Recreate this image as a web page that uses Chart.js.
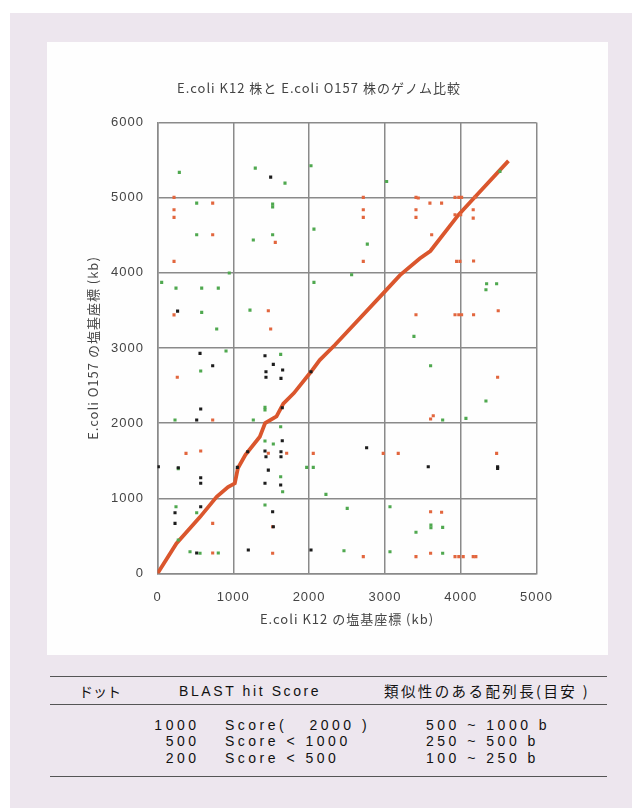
<!DOCTYPE html>
<html lang="ja">
<head>
<meta charset="utf-8">
<title>E.coli K12 株と E.coli O157 株のゲノム比較</title>
<script src="https://cdn.jsdelivr.net/npm/chart.js@4/dist/chart.umd.min.js"></script>
<style>
  html, body { margin: 0; padding: 0; background: #fff; }
  #page { position: relative; width: 632px; height: 808px; overflow: hidden; background: #fff; }
  #panel { position: absolute; left: 10px; top: 13px; width: 622px; height: 795px; background: #ede6ee; }
  #card { position: absolute; left: 47px; top: 42px; width: 561px; height: 613px; background: #fefefe; }
  #plot { position: absolute; left: 0; top: 0; filter: blur(0.45px); }
  .rule { position: absolute; left: 50px; width: 557px; height: 0; border-top: 1.5px solid #555; }
  .cell { position: absolute; line-height: 16px; white-space: pre; color: #111;
          font-family: 'Liberation Sans', Arial, sans-serif; font-size: 14px; letter-spacing: 3.5px; }
  .jp { font-family: 'Noto Sans CJK JP', sans-serif; }
</style>
</head>
<body>
<div id="page">
  <div id="panel"></div>
  <div id="card"></div>
  <canvas id="plot" width="632" height="660"></canvas>
  <div id="legendTable"></div>
</div>
<script>
// ---- axis ticks (kb) ----
const xTicks = [0, 1000, 2000, 3000, 4000, 5000];
const yTicks = [0, 1000, 2000, 3000, 4000, 5000, 6000];

// ---- main collinear trace: K12 position vs O157 position (kb) ----
const diagonalTrace = [
  [0, 0], [250, 400], [560, 750], [780, 1020], [930, 1150], [1020, 1200],
  [1060, 1400], [1160, 1580], [1350, 1820], [1420, 2000], [1570, 2090],
  [1660, 2260], [1800, 2400], [2030, 2690], [2140, 2840], [2340, 3040],
  [2980, 3730], [3200, 3970], [3460, 4190], [3600, 4290], [3970, 4770],
  [4170, 4990], [4630, 5490]
];

// ---- scattered hits by score class ----
const redHits = [
  [218, 5004], [218, 4840], [218, 4738], [728, 4928], [728, 4506], [218, 4152],
  [218, 3440], [1462, 3495], [1493, 3252], [1554, 4405],
  [2715, 5004], [2715, 4840], [2715, 4738], [2715, 4152], [3410, 5004], [3440, 4995],
  [3410, 4840], [3410, 4738], [3594, 4928], [3748, 4928], [3617, 4506],
  [3925, 5004], [3975, 5004], [4012, 5004], [4188, 5004], [3925, 4772], [4000, 4772],
  [4165, 4840], [4165, 4728], [3946, 4152], [3990, 4152], [4170, 4158],
  [3410, 3442], [3925, 3442], [3975, 3442], [4012, 3442], [4170, 3442], [4495, 3495],
  [261, 2610], [728, 2042], [376, 1598], [570, 1629], [1462, 1600], [1704, 1600],
  [2055, 1598], [728, 667], [1519, 622], [728, 272], [1519, 269],
  [4487, 2610], [3638, 2099], [3603, 2055], [2978, 1598], [3176, 1598], [4474, 1598],
  [3603, 822], [3748, 814], [2715, 224], [3410, 224], [3603, 269],
  [3925, 224], [3975, 224], [4033, 224], [4165, 224], [4200, 224]
];
const greenHits = [
  [288, 5336], [517, 4928], [517, 4506], [947, 3997], [55, 3873], [244, 3797],
  [583, 3797], [802, 3797], [583, 3474], [781, 3252], [1290, 5393], [1682, 5194],
  [2025, 5424], [1519, 4914], [1519, 4875], [1264, 4436], [1519, 4506], [2064, 4582],
  [2064, 3873], [1220, 3504],
  [3023, 5216], [2768, 4382], [2561, 3974], [4342, 3854], [4474, 3854], [4333, 3775],
  [3383, 3155], [4518, 5350],
  [904, 2960], [570, 2694], [231, 2042], [1264, 2042], [1625, 2915], [1418, 2210],
  [1418, 2175], [1625, 1952], [1418, 1762], [1528, 1722], [274, 1395], [1968, 1412],
  [2055, 1412], [1625, 1287], [1651, 1088], [2222, 1053], [244, 888], [517, 809],
  [1418, 911], [274, 446], [429, 290], [561, 269], [802, 272],
  [3603, 2764], [4333, 2294], [3762, 2042], [4069, 2064], [2503, 867], [3067, 888],
  [3607, 645], [3607, 609], [3762, 614], [3410, 548], [2460, 303], [3067, 290], [3762, 269]
];
const blackHits = [
  [265, 3490], [1493, 5273],
  [561, 2929], [728, 2764], [570, 2188], [517, 2042], [1418, 2897], [1528, 2782],
  [1431, 2684], [1431, 2610], [1651, 2707], [1629, 2596], [1646, 2205], [2025, 2684],
  [1646, 1766], [1190, 1620], [1418, 1629], [1431, 1553], [1629, 1620], [1629, 1553],
  [11, 1420], [274, 1407], [1053, 1412], [1462, 1376], [570, 1274], [570, 1200],
  [1418, 1200], [1625, 1177], [570, 888], [231, 809], [231, 667], [1519, 822],
  [1528, 622], [517, 272], [1198, 312], [2025, 312],
  [2759, 1673], [3572, 1420], [4487, 1399], [4487, 1420]
];

// ---- legend table text ----
const legendHeader = ['ドット', 'BLAST hit Score', '類似性のある配列長(目安 )'];
const scoreFloor = ['1000', '500', '200'];
const scoreRange = ['Score(   2000 )', 'Score < 1000', 'Score < 500'];
const seqLength = ['500 ~ 1000 b', '250 ~ 500 b', '100 ~ 250 b'];

const toXY = arr => arr.map(([x, y]) => ({ x, y }));

// canvas text gets a little tracking
const tracking = {
  id: 'tracking',
  beforeDraw(chart) { chart.ctx.letterSpacing = '1px'; }
};

const gridColor = '#8a8a8a';
const textColor = '#444';
const jpFont = "'Noto Sans CJK JP', sans-serif";
const plainTick = v => String(v);

// left padding shifts the chart title toward the plot; the y axis box fills the rest
const padLeft = 101.5;
const plotLeft = 157.5;

new Chart(document.getElementById('plot'), {
  type: 'scatter',
  data: {
    datasets: [
      { label: 'black', data: toXY(blackHits), backgroundColor: '#1c1c1c',
        pointStyle: 'rect', pointRadius: 2.2, borderWidth: 0 },
      { label: 'green', data: toXY(greenHits), backgroundColor: '#4fa84f',
        pointStyle: 'rect', pointRadius: 2.2, borderWidth: 0 },
      { label: 'red', data: toXY(redHits), backgroundColor: '#e2663e',
        pointStyle: 'rect', pointRadius: 2.2, borderWidth: 0 },
      { label: 'trace', data: toXY(diagonalTrace), showLine: true,
        borderColor: '#da562d', borderWidth: 3.8, pointRadius: 0, tension: 0 }
    ]
  },
  options: {
    responsive: false,
    animation: false,
    devicePixelRatio: 1,
    events: [],
    layout: { padding: { left: padLeft, right: 95.5, top: 0, bottom: 26.5 } },
    plugins: {
      legend: { display: false },
      tooltip: { enabled: false },
      title: {
        display: true,
        text: 'E.coli K12 株と E.coli O157 株のゲノム比較',
        color: textColor,
        font: { family: jpFont, size: 13, weight: 'normal', lineHeight: 1.2 },
        padding: { top: 80, bottom: 26.9 }
      }
    },
    scales: {
      x: {
        type: 'linear',
        min: 0, max: 5000,
        afterBuildTicks: s => { s.ticks = xTicks.map(v => ({ value: v })); },
        afterFit: s => { s.height = 60; },
        grid: { color: gridColor, lineWidth: 1.5, drawTicks: false },
        border: { color: gridColor, width: 1.5 },
        ticks: { color: textColor, padding: 16, callback: plainTick,
                 font: { family: "'Liberation Sans', Arial, sans-serif", size: 13 } },
        title: { display: true, text: 'E.coli K12 の塩基座標 (kb)', color: textColor,
                 font: { family: jpFont, size: 13, lineHeight: 1.2 },
                 padding: { top: 0, bottom: 6.7 } }
      },
      y: {
        type: 'linear',
        min: 0, max: 6000,
        afterBuildTicks: s => { s.ticks = yTicks.map(v => ({ value: v })); },
        afterFit: s => { s.width = plotLeft - padLeft; },
        grid: { color: gridColor, lineWidth: 1.5, drawTicks: false },
        border: { color: gridColor, width: 1.5 },
        ticks: { color: textColor, padding: 13.5, callback: plainTick,
                 font: { family: "'Liberation Sans', Arial, sans-serif", size: 13 } },
        title: { display: true, text: 'E.coli O157 の塩基座標 (kb)', color: textColor,
                 font: { family: jpFont, size: 13, lineHeight: 1.2 },
                 padding: { top: 85 - padLeft, bottom: 0 } }
      }
    }
  },
  plugins: [tracking]
});

// ---- legend table under the chart ----
(function buildTable() {
  const host = document.getElementById('legendTable');
  const add = (cls, text, style) => {
    const el = document.createElement('div');
    el.className = cls;
    if (text !== null) el.textContent = text;
    Object.assign(el.style, style);
    host.appendChild(el);
    return el;
  };
  add('rule', null, { top: '676px' });
  add('rule', null, { top: '704px' });
  add('rule', null, { top: '776px' });

  add('cell jp', legendHeader[0], { left: '79px', top: '683px', letterSpacing: '0px' });
  add('cell', legendHeader[1], { left: '179px', top: '683px', letterSpacing: '2.6px' });
  add('cell jp', legendHeader[2], { left: '384px', top: '683px', fontSize: '14.5px', letterSpacing: '2.4px' });

  const rowTops = [716.5, 733, 749.5];
  scoreFloor.forEach((v, i) => {
    add('cell', v, { left: '130px', width: '69.5px', textAlign: 'right', top: rowTops[i] + 'px' });
    add('cell', scoreRange[i], { left: '225px', top: rowTops[i] + 'px' });
    add('cell', seqLength[i], { left: '426px', top: rowTops[i] + 'px' });
  });
})();
</script>
</body>
</html>
